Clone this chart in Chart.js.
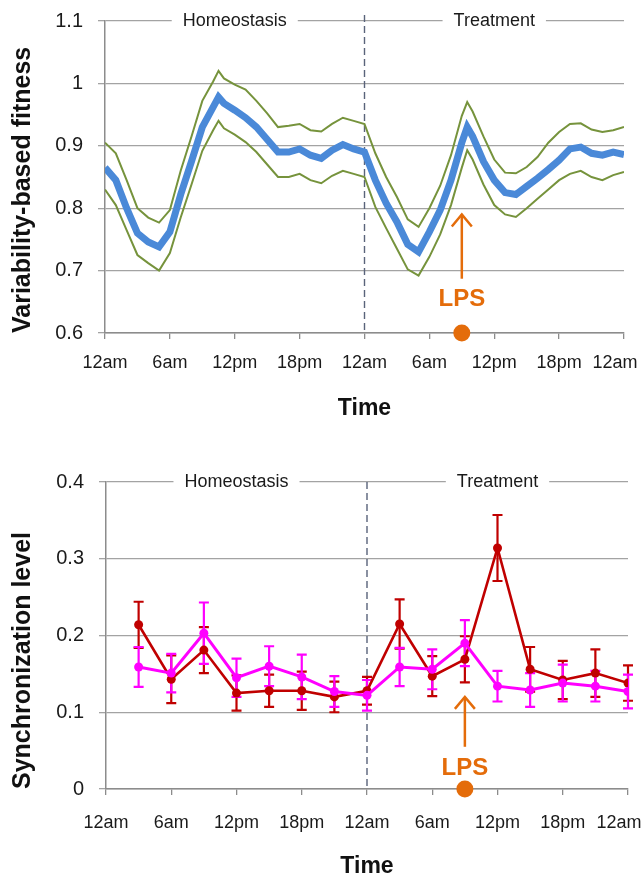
<!DOCTYPE html>
<html><head><meta charset="utf-8">
<script src="https://cdn.jsdelivr.net/npm/chart.js@4.4.1/dist/chart.umd.min.js"></script>
<style>body{margin:0;background:#fff;} canvas{display:block;}</style>
</head><body>
<canvas id="c1" width="644" height="440"></canvas>
<canvas id="c2" width="644" height="441"></canvas>
<script>
// ---------- data ----------
const xTickHours = [0, 6, 12, 18, 24, 30, 36, 42, 48];
const xTickLabels = ['12am', '6am', '12pm', '18pm', '12am', '6am', '12pm', '18pm', '12am'];

const fitTickValues = [0.6, 0.7, 0.8, 0.9, 1.0, 1.1];
const fitTickLabels = ['0.6', '0.7', '0.8', '0.9', '1', '1.1'];
const syncTickValues = [0, 0.1, 0.2, 0.3, 0.4];
const syncTickLabels = ['0', '0.1', '0.2', '0.3', '0.4'];

const fitHours = [0,1,2,3,4,5,6,7,8,9,10,10.5,11,12,13,14,15,16,17,18,19,20,21,22,23,24,
                  25,26,27,28,29,30,31,32,33,33.5,34,35,36,37,38,39,40,41,42,43,44,45,46,47,48];
const fitMean = [0.865,0.845,0.800,0.760,0.746,0.738,0.762,0.822,0.875,0.930,0.962,0.978,0.968,0.957,0.945,0.930,0.910,0.890,0.890,0.895,0.885,0.880,0.893,0.902,0.895,0.890,
                 0.845,0.808,0.778,0.742,0.730,0.762,0.797,0.845,0.905,0.930,0.915,0.875,0.845,0.825,0.822,0.835,0.848,0.862,0.877,0.895,0.898,0.888,0.885,0.890,0.886];
const fitUpper = [0.905,0.888,0.845,0.800,0.785,0.777,0.797,0.860,0.915,0.972,1.003,1.020,1.008,0.998,0.990,0.972,0.952,0.930,0.932,0.935,0.925,0.923,0.935,0.945,0.940,0.935,
                  0.888,0.850,0.818,0.782,0.770,0.800,0.836,0.885,0.948,0.970,0.955,0.915,0.878,0.857,0.856,0.866,0.882,0.905,0.922,0.935,0.936,0.926,0.922,0.925,0.930];
const fitLower = [0.830,0.805,0.765,0.725,0.712,0.700,0.728,0.785,0.838,0.892,0.925,0.940,0.928,0.918,0.906,0.890,0.870,0.850,0.850,0.855,0.845,0.840,0.852,0.860,0.855,0.850,
                  0.802,0.768,0.735,0.702,0.692,0.722,0.758,0.805,0.865,0.893,0.878,0.838,0.805,0.790,0.786,0.800,0.815,0.830,0.845,0.855,0.860,0.850,0.845,0.853,0.858];

const syncHours = [3,6,9,12,15,18,21,24,27,30,33,36,39,42,45,48];
const syncRed    = [0.214,0.143,0.181,0.125,0.128,0.128,0.120,0.128,0.215,0.147,0.169,0.314,0.156,0.142,0.151,0.138];
const syncRedErr = [0.030,0.031,0.030,0.023,0.021,0.025,0.020,0.018,0.032,0.026,0.030,0.043,0.029,0.025,0.031,0.023];
const syncMag    = [0.159,0.151,0.203,0.145,0.160,0.146,0.127,0.122,0.159,0.156,0.190,0.134,0.129,0.138,0.134,0.127];
const syncMagErr = [0.026,0.025,0.040,0.025,0.026,0.029,0.020,0.020,0.025,0.026,0.030,0.020,0.022,0.024,0.020,0.022];

const phaseLabels = ['Homeostasis', 'Treatment'];
const phaseCenters = [12, 36];
const treatmentStart = 24;
const lpsHour = 33;

// ---------- styling ----------
const FONT = '"Liberation Sans", Arial, Helvetica, sans-serif';
const ORANGE = '#e46c0a';
const pts = (xs, ys) => xs.map((x, i) => ({x, y: ys[i]}));

const annotPlugin = {
  id: 'annot',
  beforeDatasetsDraw(chart, args, o) {
    const {ctx, chartArea: a, scales: {x, y}} = chart;
    const sx = x.getPixelForValue(o.split);
    ctx.save();
    ctx.strokeStyle = '#59637a'; ctx.lineWidth = 1.4; ctx.setLineDash([7, 4]);
    ctx.beginPath(); ctx.moveTo(sx, a.top + o.dashTop); ctx.lineTo(sx, a.bottom); ctx.stroke();
    ctx.setLineDash([]);
    (o.errorBars || []).forEach(eb => {
      ctx.strokeStyle = eb.color; ctx.lineWidth = 2.2;
      eb.xs.forEach((hx, i) => {
        const px = x.getPixelForValue(hx);
        const t = y.getPixelForValue(eb.values[i] + eb.errors[i]);
        const b = y.getPixelForValue(eb.values[i] - eb.errors[i]);
        ctx.beginPath();
        ctx.moveTo(px, t); ctx.lineTo(px, b);
        ctx.moveTo(px - 5, t); ctx.lineTo(px + 5, t);
        ctx.moveTo(px - 5, b); ctx.lineTo(px + 5, b);
        ctx.stroke();
      });
    });
    ctx.restore();
  },
  afterDatasetsDraw(chart, args, o) {
    const {ctx, scales: {x, y}} = chart;
    ctx.save();
    ctx.font = '18px ' + FONT;
    ctx.textAlign = 'center'; ctx.textBaseline = 'middle';
    o.labels.forEach((t, i) => {
      const px = x.getPixelForValue(o.centers[i]);
      const py = y.getPixelForValue(o.phaseY);
      const w = ctx.measureText(t).width;
      ctx.fillStyle = '#fff';
      ctx.fillRect(px - w / 2 - 11, py - 4, w + 22, 8);
      ctx.fillStyle = '#1a1a1a';
      ctx.fillText(t, px, py);
    });
    const lx = x.getPixelForValue(o.lps.x);
    const tip = y.getPixelForValue(o.lps.tip), tail = y.getPixelForValue(o.lps.tail);
    ctx.strokeStyle = ORANGE; ctx.lineWidth = 2.5;
    ctx.beginPath(); ctx.moveTo(lx, tail); ctx.lineTo(lx, tip); ctx.stroke();
    ctx.beginPath(); ctx.moveTo(lx - 10, tip + 12); ctx.lineTo(lx, tip); ctx.lineTo(lx + 10, tip + 12); ctx.stroke();
    ctx.font = 'bold 24px ' + FONT; ctx.fillStyle = ORANGE;
    ctx.fillText('LPS', lx, y.getPixelForValue(o.lps.text));
    ctx.restore();
  }
};

function makeOptions(c) {
  return {
    responsive: false, animation: false, devicePixelRatio: 1,
    layout: {padding: {top: c.padTop, right: c.padRight, left: 0, bottom: 0}},
    plugins: {legend: {display: false}, tooltip: {enabled: false}, annot: c.annot},
    scales: {
      x: {
        type: 'linear', min: 0, max: 48,
        afterFit(s) { s.height = c.xHeight; s.paddingLeft = 0; s.paddingRight = 0; },
        afterBuildTicks(s) { s.ticks = xTickHours.map(v => ({value: v})); },
        ticks: {autoSkip: false, maxRotation: 0, padding: c.xTickPad, color: '#1a1a1a',
                font: {family: FONT, size: 18},
                // last label kept inside the page edge, as in the original
                callback: (v, i) => i === xTickLabels.length - 1 ? xTickLabels[i] + '\u2003' : xTickLabels[i]},
        grid: {display: true, drawOnChartArea: false, drawTicks: true, tickLength: 6, color: '#8c8c8c', lineWidth: 1.3},
        border: {display: true, color: '#8c8c8c', width: 1.5},
        title: {display: true, text: 'Time', color: '#111', font: {family: FONT, size: 23, weight: 'bold'},
                padding: {top: 0, bottom: c.titlePadBottom}}
      },
      y: {
        min: c.yMin, max: c.yMax,
        afterFit(s) { s.width = c.yWidth; s.paddingTop = 0; s.paddingBottom = 0; },
        afterBuildTicks(s) { s.ticks = c.yTicks.map(v => ({value: v})); },
        ticks: {padding: 15, color: '#1a1a1a', font: {family: FONT, size: 20},
                callback: (v, i) => c.yLabels[i]},
        grid: {color: '#a3a3a3', lineWidth: 1.3, tickLength: 7, drawTicks: true},
        border: {display: true, color: '#8c8c8c', width: 1.5},
        title: {display: true, text: c.yTitle, align: 'start', color: '#111',
                font: {family: FONT, size: 25, weight: 'bold'}, padding: {top: 8, bottom: 0}}
      }
    }
  };
}

new Chart(document.getElementById('c1'), {
  type: 'line',
  data: {datasets: [
    {data: pts([lpsHour], [fitTickValues[0]]), showLine: false, pointRadius: 8.5, backgroundColor: ORANGE, borderWidth: 0, clip: false, order: 0},
    {data: pts(fitHours, fitMean), borderColor: '#4a89d8', borderWidth: 7, pointRadius: 0, tension: 0, order: 1},
    {data: pts(fitHours, fitUpper), borderColor: '#76933c', borderWidth: 2, pointRadius: 0, tension: 0, order: 2},
    {data: pts(fitHours, fitLower), borderColor: '#76933c', borderWidth: 2, pointRadius: 0, tension: 0, order: 3}
  ]},
  options: makeOptions({
    padTop: 21, padRight: 20, xHeight: 107, xTickPad: 13, titlePadBottom: 18, yWidth: 105,
    yMin: 0.6, yMax: 1.1, yTicks: fitTickValues, yLabels: fitTickLabels, yTitle: 'Variability-based fitness',
    annot: {split: treatmentStart, dashTop: -6, labels: phaseLabels, centers: phaseCenters, phaseY: 1.1,
            lps: {x: lpsHour, tip: 0.79, tail: 0.687, text: 0.654}}
  }),
  plugins: [annotPlugin]
});

new Chart(document.getElementById('c2'), {
  type: 'line',
  data: {datasets: [
    {data: pts([lpsHour], [syncTickValues[0]]), showLine: false, pointRadius: 8.5, backgroundColor: ORANGE, borderWidth: 0, clip: false, order: 0},
    {data: pts(syncHours, syncMag), borderColor: '#ff00ff', backgroundColor: '#ff00ff', borderWidth: 3, pointRadius: 4.5, pointBorderWidth: 0, tension: 0, order: 1},
    {data: pts(syncHours, syncRed), borderColor: '#c00000', backgroundColor: '#c00000', borderWidth: 2.6, pointRadius: 4.5, pointBorderWidth: 0, tension: 0, order: 2}
  ]},
  options: makeOptions({
    padTop: 42, padRight: 16, xHeight: 92, xTickPad: 17, titlePadBottom: 1, yWidth: 106,
    yMin: 0, yMax: 0.4, yTicks: syncTickValues, yLabels: syncTickLabels, yTitle: 'Synchronization level',
    annot: {split: treatmentStart, dashTop: 0, labels: phaseLabels, centers: phaseCenters, phaseY: 0.4,
            lps: {x: lpsHour, tip: 0.12, tail: 0.055, text: 0.027},
            errorBars: [
              {xs: syncHours, values: syncRed, errors: syncRedErr, color: '#c00000'},
              {xs: syncHours, values: syncMag, errors: syncMagErr, color: '#ff00ff'}
            ]}
  }),
  plugins: [annotPlugin]
});
</script>
</body></html>
